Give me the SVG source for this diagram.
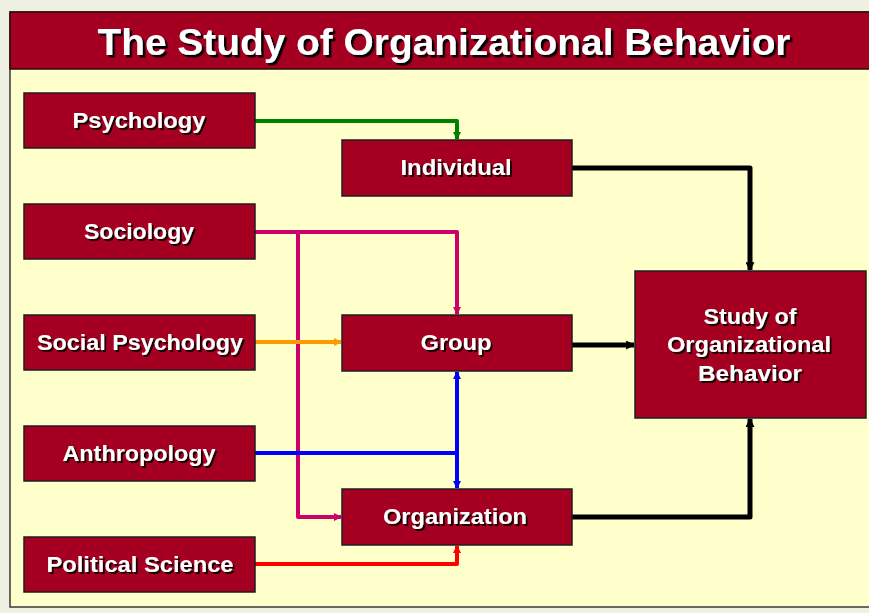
<svg xmlns="http://www.w3.org/2000/svg" width="869" height="613" viewBox="0 0 869 613">
  <defs>
    <style>
      .box { fill: #a50021; stroke: #1e1e1e; stroke-width: 1.5; }
      .lbl { font-family: "Liberation Sans", Arial, sans-serif; font-weight: bold; font-size: 22px; fill: #ffffff; text-anchor: middle; filter: url(#shadow); }
      .title { font-family: "Liberation Sans", Arial, sans-serif; font-weight: bold; font-size: 37px; fill: #ffffff; text-anchor: middle; filter: url(#shadowT); }
      .c { fill: none; stroke-width: 4; stroke-linejoin: round; }
      .k { fill: none; stroke: #000000; stroke-width: 5; stroke-linejoin: round; }
    </style>
    <filter id="shadow" x="-10%" y="-20%" width="130%" height="150%">
      <feDropShadow dx="2" dy="2" stdDeviation="0.3" flood-color="#1a0000" flood-opacity="1"/>
    </filter>
    <filter id="shadowT" x="-10%" y="-20%" width="130%" height="150%">
      <feDropShadow dx="2.5" dy="2.5" stdDeviation="0.3" flood-color="#000000" flood-opacity="1"/>
    </filter>
    <marker id="aG" viewBox="0 0 8 8" refX="7" refY="4" markerWidth="8" markerHeight="8" markerUnits="userSpaceOnUse" orient="auto"><path d="M0,0 L8,4 L0,8 z" fill="#008000"/></marker>
    <marker id="aP" viewBox="0 0 8 8" refX="7" refY="4" markerWidth="8" markerHeight="8" markerUnits="userSpaceOnUse" orient="auto"><path d="M0,0 L8,4 L0,8 z" fill="#cc0066"/></marker>
    <marker id="aO" viewBox="0 0 8 8" refX="7" refY="4" markerWidth="8" markerHeight="8" markerUnits="userSpaceOnUse" orient="auto"><path d="M0,0 L8,4 L0,8 z" fill="#ff9900"/></marker>
    <marker id="aB" viewBox="0 0 8 8" refX="7" refY="4" markerWidth="8" markerHeight="8" markerUnits="userSpaceOnUse" orient="auto"><path d="M0,0 L8,4 L0,8 z" fill="#0000ff"/></marker>
    <marker id="aR" viewBox="0 0 8 8" refX="7" refY="4" markerWidth="8" markerHeight="8" markerUnits="userSpaceOnUse" orient="auto"><path d="M0,0 L8,4 L0,8 z" fill="#ff0000"/></marker>
    <marker id="aK" viewBox="0 0 8 8" refX="7" refY="4" markerWidth="9" markerHeight="9" markerUnits="userSpaceOnUse" orient="auto"><path d="M0,0 L8,4 L0,8 z" fill="#000000"/></marker>
  </defs>

  <rect x="0" y="0" width="869" height="613" fill="#eef0e2"/>

  <g id="frame">
    <rect x="10" y="12" width="862" height="595" fill="#ffffcc" stroke="#3a3a3a" stroke-width="1.5"/>
    <rect x="10" y="12" width="862" height="57" fill="#a50021" stroke="#2a0a0a" stroke-width="1.5"/>
    <text class="title" x="444" y="55" textLength="693" lengthAdjust="spacingAndGlyphs">The Study of Organizational Behavior</text>
  </g>

  <g id="connectors">
    <path class="c" stroke="#008000" d="M255,121 H457 V139" marker-end="url(#aG)"/>
    <path class="c" stroke="#cc0066" d="M255,232 H457 V314" marker-end="url(#aP)"/>
    <path class="c" stroke="#cc0066" d="M298,232 V517 H341" marker-end="url(#aP)"/>
    <path class="c" stroke="#ff9900" d="M255,342 H341" marker-end="url(#aO)"/>
    <path class="c" stroke="#0000ff" d="M255,453 H457"/>
    <path class="c" stroke="#0000ff" d="M457,453 V372" marker-end="url(#aB)"/>
    <path class="c" stroke="#0000ff" d="M457,453 V488" marker-end="url(#aB)"/>
    <path class="c" stroke="#ff0000" d="M255,564 H457 V546" marker-end="url(#aR)"/>
    <path class="k" d="M572,168 H750 V270" marker-end="url(#aK)"/>
    <path class="k" d="M572,345 H634" marker-end="url(#aK)"/>
    <path class="k" d="M572,517 H750 V419" marker-end="url(#aK)"/>
  </g>

  <g id="psychology">
    <rect class="box" x="24" y="93" width="231" height="55"/>
    <text class="lbl" x="139" y="128" textLength="133" lengthAdjust="spacingAndGlyphs">Psychology</text>
  </g>
  <g id="sociology">
    <rect class="box" x="24" y="204" width="231" height="55"/>
    <text class="lbl" x="139" y="239" textLength="110" lengthAdjust="spacingAndGlyphs">Sociology</text>
  </g>
  <g id="social-psychology">
    <rect class="box" x="24" y="315" width="231" height="55"/>
    <text class="lbl" x="140" y="350" textLength="206" lengthAdjust="spacingAndGlyphs">Social Psychology</text>
  </g>
  <g id="anthropology">
    <rect class="box" x="24" y="426" width="231" height="55"/>
    <text class="lbl" x="139" y="461" textLength="153" lengthAdjust="spacingAndGlyphs">Anthropology</text>
  </g>
  <g id="political-science">
    <rect class="box" x="24" y="537" width="231" height="55"/>
    <text class="lbl" x="140" y="572" textLength="187" lengthAdjust="spacingAndGlyphs">Political Science</text>
  </g>
  <g id="individual">
    <rect class="box" x="342" y="140" width="230" height="56"/>
    <text class="lbl" x="456" y="175" textLength="111" lengthAdjust="spacingAndGlyphs">Individual</text>
  </g>
  <g id="group">
    <rect class="box" x="342" y="315" width="230" height="56"/>
    <text class="lbl" x="456" y="350" textLength="71" lengthAdjust="spacingAndGlyphs">Group</text>
  </g>
  <g id="organization">
    <rect class="box" x="342" y="489" width="230" height="56"/>
    <text class="lbl" x="455" y="524" textLength="144" lengthAdjust="spacingAndGlyphs">Organization</text>
  </g>
  <g id="study">
    <rect class="box" x="635" y="271" width="231" height="147"/>
    <text class="lbl" x="750" y="324" textLength="93" lengthAdjust="spacingAndGlyphs">Study of</text>
    <text class="lbl" x="749" y="352" textLength="164" lengthAdjust="spacingAndGlyphs">Organizational</text>
    <text class="lbl" x="750" y="381" textLength="104" lengthAdjust="spacingAndGlyphs">Behavior</text>
  </g>
</svg>
